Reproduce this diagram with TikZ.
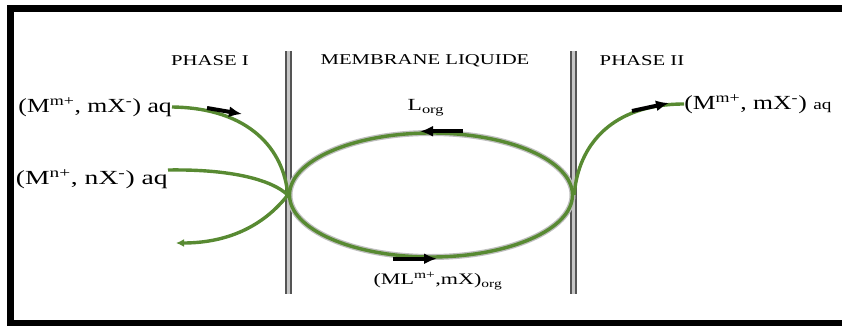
\documentclass[tikz,border=0pt]{standalone}
\usepackage{fontspec}
\setmainfont{Liberation Serif}
\usetikzlibrary{arrows.meta, shapes.geometric}
\definecolor{loopgreen}{RGB}{88,138,50}
\definecolor{wallgray}{RGB}{85,85,85}

\begin{document}
\begin{tikzpicture}[x=1pt, y=-1pt,
  lbl/.style={inner sep=0pt, xscale=1.38},
  big/.style={lbl, font=\fontsize{20}{24}\selectfont},
  small/.style={lbl, font=\fontsize{15}{18}\selectfont},
  wall/.style={draw=wallgray, line width=2pt, double=gray!45, double distance=2.2pt},
  flow/.style={draw=loopgreen, line width=3.4pt},
  blk/.style={-{Latex[length=13pt, width=11pt]}, line width=4pt, black}]
  \useasboundingbox (0,0) rectangle (842,326);
  \draw[line width=7pt] (842,8.5) -- (10.5,8.5) -- (10.5,323.5) -- (842,323.5);
  % membranes
  \draw[wall] (288.5,51) -- (288.5,294);
  \draw[wall] (573.5,51) -- (573.5,294);
  \node[small] (ph1) at (210,61) {PHASE I};
  \node[small] (mem) at (425,61) {MEMBRANE LIQUIDE};
  \node[small] (ph2) at (642,61) {PHASE II};
  \node[small, font=\fontsize{17}{20}\selectfont] (lorg) at (426,108) {L\textsubscript{org}};
  \node[small, font=\fontsize{16}{19}\selectfont] (mlx) at (438,281) {(ML\textsuperscript{m+},mX)\textsubscript{org}};
  \node[big, xscale=0.93, anchor=east] (m1) at (172,107) {(M\textsuperscript{m+}, mX\textsuperscript{-}) aq};
  \node[big, anchor=east] (m2) at (168,179) {(M\textsuperscript{n+}, nX\textsuperscript{-}) aq};
  \node[big, xscale=0.93, anchor=west] (m3) at (684,104) {(M\textsuperscript{m+}, mX\textsuperscript{-}) {\fontsize{15}{18}\selectfont aq}};
  \node[ellipse, flow, minimum width=283pt, minimum height=124pt, inner sep=0pt,
    preaction={draw=gray!50, line width=6pt}] (loop) at (431,195) {};
  \coordinate (back) at (176,243);
  % left side
  \draw[flow] (m1.east) .. controls (250,108) and (284,150) .. (loop.west);
  \draw[flow] ([yshift=9pt]m2.east) .. controls (232,169) and (272,180) .. (loop.west);
  \draw[flow, -{Latex[length=8pt, width=8pt]}] (loop.west) .. controls (262,228) and (225,243) .. (back);
  % right side
  \draw[flow] (loop.east) .. controls (578,145) and (612,104) .. (m3.west);
  % black arrows
  \draw[blk] (207,108) -- (242,114);
  \draw[blk] ([xshift=32pt]loop.north) -- ([xshift=-11pt]loop.north);
  \draw[blk] ([xshift=-38pt]loop.south) -- ([xshift=6pt]loop.south);
  \draw[blk] (632,111) -- (669,103);
\end{tikzpicture}
\end{document}
